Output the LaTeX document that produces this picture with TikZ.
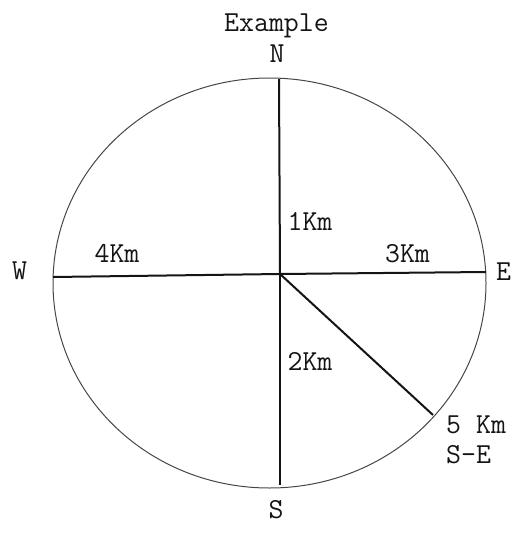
\documentclass[tikz,border=0pt]{standalone}
\usepackage{fontspec}
\usepackage{xcolor}
\usepackage{tikz}
\usetikzlibrary{calc,positioning}
\definecolor{ink}{RGB}{20,20,20}
\definecolor{rimgray}{RGB}{70,70,70}
\newcommand{\LabelFont}{\fontsize{29}{33}\selectfont\ttfamily}
\tikzset{
  spoke/.style={draw=ink, line width=2pt},
  rim/.style={draw=rimgray, line width=1pt},
  lbl/.style={anchor=base, inner sep=0pt, font=\LabelFont, text=ink},
  lblleft/.style={anchor=base west, inner sep=0pt, font=\LabelFont, text=ink}
}
\begin{document}
\begin{tikzpicture}[x=1pt, y=-1pt]
  \useasboundingbox (0,0) rectangle (516,551);
  \coordinate (ctr) at (280,274);
  \coordinate (tipN) at (279,79);
  \coordinate (tipS) at (280,485);
  \coordinate (tipW) at (53,277);
  \coordinate (tipE) at (486,272);
  \coordinate (tipSE) at (433,415);
  \draw[rim] (269.5,283) ellipse [x radius=216.5, y radius=205];
  \draw[spoke] (ctr) -- (tipN); \draw[spoke] (ctr) -- (tipS);
  \draw[spoke] (ctr) -- (tipW); \draw[spoke] (ctr) -- (tipE);
  \draw[spoke] (ctr) -- (tipSE);
  \node[lbl] (title) at (276.5,32) {Example};
  \node[lbl] (lN) at (277,63) {N};
  \node[lbl] (lS) at (276,518) {S};
  \node[lbl] (lW) at (19.5,279) {W};
  \node[lbl] (lE) at (503.5,280) {E};
  \node[lbl] (d1) at (310,230) {1Km};
  \node[lbl] (d2) at (310,370) {2Km};
  \node[lbl] (d3) at (407.5,262) {3Km};
  \node[lbl] (d4) at (117,262) {4Km};
  \node[lblleft] (d5) at (446,433) {5 Km};
  \node[lblleft] (dir5) at (446,463) {S-E};
\end{tikzpicture}
\end{document}
